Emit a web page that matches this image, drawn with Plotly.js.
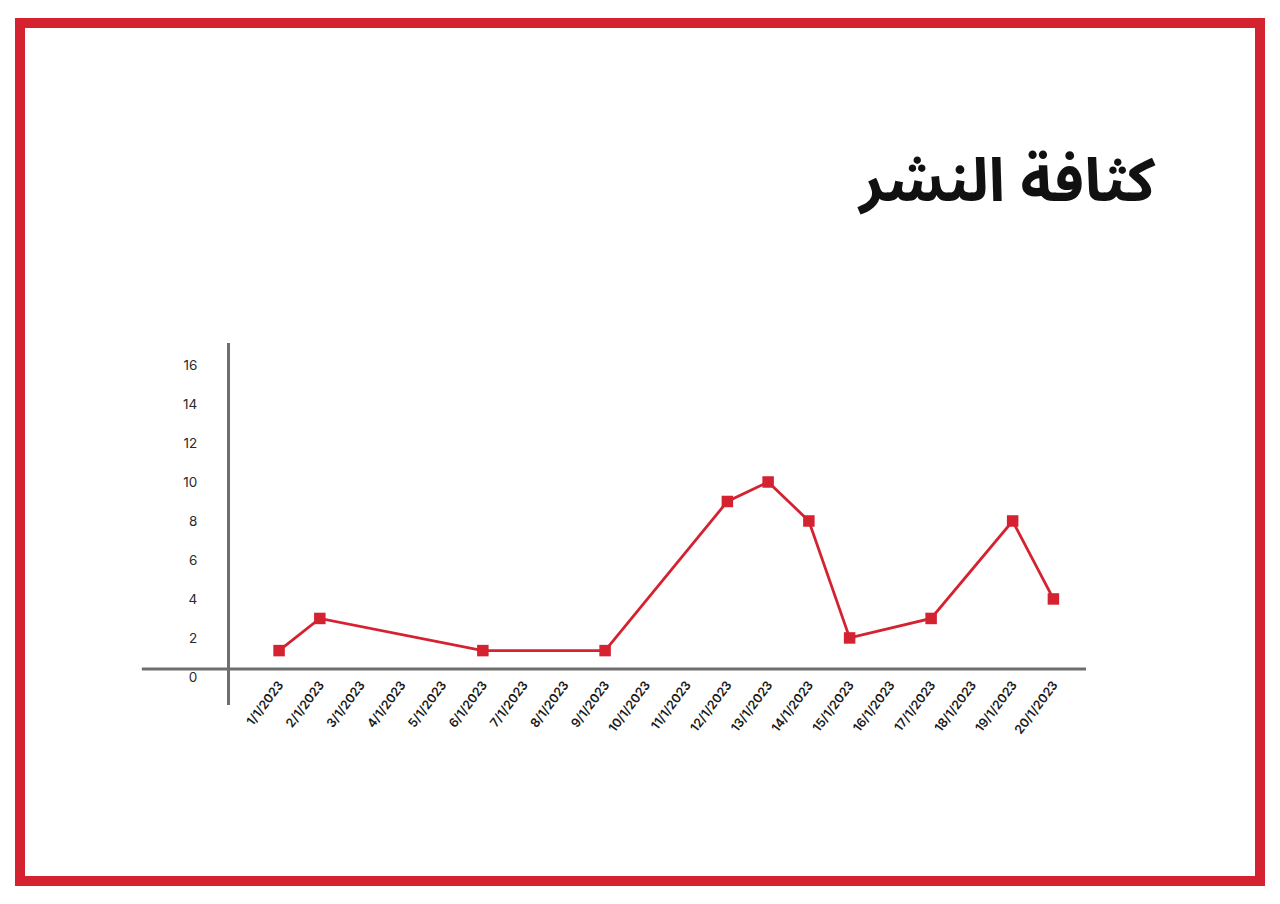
<!DOCTYPE html>
<html>
<head>
<meta charset="utf-8">
<script src="https://cdn.plot.ly/plotly-3.0.1.min.js"></script>
<style>
  html, body { margin: 0; padding: 0; background: #ffffff; }
  #frame { position: absolute; left: 15px; top: 18px; width: 1250px; height: 868px;
           border: 10.5px solid #d42231; box-sizing: border-box; }
  #chart { position: absolute; left: 0; top: 0; width: 1280px; height: 904px; }
</style>
</head>
<body>
<div id="frame"></div>
<div id="chart"></div>
<script>
const dates = ["1/1/2023","2/1/2023","3/1/2023","4/1/2023","5/1/2023","6/1/2023","7/1/2023",
  "8/1/2023","9/1/2023","10/1/2023","11/1/2023","12/1/2023","13/1/2023","14/1/2023",
  "15/1/2023","16/1/2023","17/1/2023","18/1/2023","19/1/2023","20/1/2023"];
const pointDates = ["1/1/2023","2/1/2023","6/1/2023","9/1/2023","12/1/2023","13/1/2023",
  "14/1/2023","15/1/2023","17/1/2023","19/1/2023","20/1/2023"];
const pointValues = [1.35, 3, 1.35, 1.35, 9, 10, 8, 2, 3, 8, 4];
const yTicks = [0, 2, 4, 6, 8, 10, 12, 14, 16];
const titleText = "كثافة النشر";

const red = "#d42231";
const gray = "#6e6e6e";

const trace = {
  type: "scatter",
  mode: "lines+markers",
  x: pointDates,
  y: pointValues,
  line: { color: red, width: 2.8 },
  marker: { color: red, size: 11.5, symbol: "square" },
  hoverinfo: "x+y"
};

const layout = {
  width: 1280, height: 904,
  paper_bgcolor: "rgba(0,0,0,0)",
  plot_bgcolor: "rgba(0,0,0,0)",
  showlegend: false,
  margin: { l: 230, r: 194, t: 343, b: 199, pad: 0 },
  title: {
    text: "<b>" + titleText + "</b>",
    font: { family: "Noto Sans Arabic, DejaVu Sans, sans-serif", size: 60, color: "#111111" },
    xref: "container", yref: "container",
    x: 1155 / 1280, xanchor: "right",
    y: 1 - 180 / 904, yanchor: "middle"
  },
  xaxis: {
    type: "category",
    categoryorder: "array",
    categoryarray: dates,
    tickvals: dates,
    range: [-1.204, 19.8],
    anchor: "free",
    position: 0.0994,
    showline: false,
    showgrid: false,
    zeroline: false,
    ticks: "",
    tickangle: -53,
    ticklabelstandoff: 5,
    tickfont: { family: "Inter, Open Sans, sans-serif", size: 12.5, color: "#1a1a1a", weight: 600 }
  },
  yaxis: {
    range: [-1.44, 17.13],
    tickvals: yTicks,
    showline: true,
    linecolor: gray,
    linewidth: 3,
    showgrid: false,
    zeroline: false,
    ticks: "",
    ticklabelstandoff: 27,
    tickfont: { family: "Inter, Open Sans, sans-serif", size: 13.5, color: "#2a2a2a" }
  },
  shapes: [
    {
      type: "line", xref: "paper", yref: "paper",
      x0: -0.103, x1: 1.0, y0: 0.0994, y1: 0.0994,
      line: { color: gray, width: 3 },
      layer: "below"
    }
  ]
};

Plotly.newPlot("chart", [trace], layout, { displayModeBar: false, staticPlot: true });
</script>
</body>
</html>
